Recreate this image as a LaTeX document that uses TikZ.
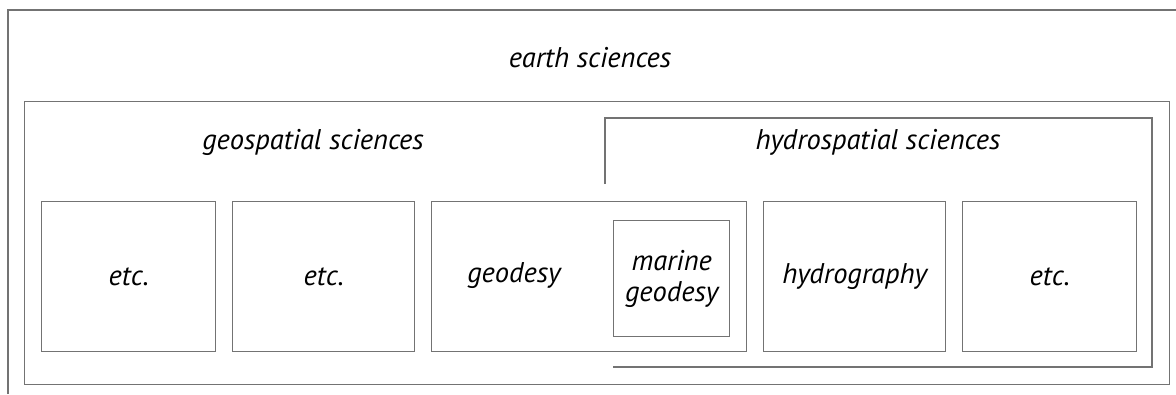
\documentclass[tikz,border=0pt]{standalone}
\usepackage{fontspec}
\setmainfont{PT Sans}
\begin{document}
\begin{tikzpicture}[x=1pt,y=-1pt,
  frame/.style={draw=black!55,line width=1.4pt},
  boxnode/.style={frame,inner sep=0pt,anchor=north west,font=\fontsize{28.5}{31}\selectfont\itshape,align=center},
  lbl/.style={inner sep=0pt,font=\fontsize{28.5}{31}\selectfont\itshape,align=center}]
\useasboundingbox (0,0) rectangle (1176,394);
% outer earth sciences frame (cropped)
\coordinate (eA) at (8,394);
\coordinate (eB) at (8,10);
\coordinate (eC) at (1176,10);
\draw[frame] (eA) -- (eB) -- (eC);
\node[lbl] (earth) at (590,58) {earth sciences};
% inner frame
\node[boxnode,minimum width=1145pt,minimum height=283pt] (inner) at (24,101) {};
\node[lbl] (geo) at (313,142) {geospatial sciences};
% hydrospatial frame
\coordinate (h1) at (605,184);
\coordinate (h2) at (605,118);
\coordinate (h3) at (1152,118);
\coordinate (h4) at (1152,367);
\coordinate (h5) at (613,367);
\draw[frame] (h1) -- (h2) -- (h3) -- (h4) -- (h5);
\node[lbl] (hydro) at (878,142) {hydrospatial sciences};
% small boxes
\node[boxnode,minimum width=174pt,minimum height=150pt] (b1) at (41,201) {etc.};
\node[boxnode,minimum width=182pt,minimum height=150pt] (b2) at (232,201) {etc.};
\node[boxnode,minimum width=315pt,minimum height=150pt] (b3) at (431,201) {};
\node[lbl] (geodesy) at (514,276) {geodesy};
\node[boxnode,minimum width=116pt,minimum height=116pt] (mg) at (613,220) {marine\\geodesy};
\node[boxnode,minimum width=182pt,minimum height=150pt] (b4) at (763,201) {hydrography};
\node[boxnode,minimum width=174pt,minimum height=150pt] (b5) at (962,201) {etc.};
\end{tikzpicture}
\end{document}
